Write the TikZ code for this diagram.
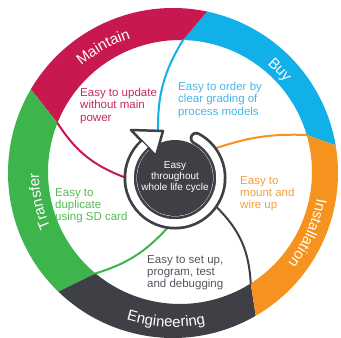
\documentclass[tikz,border=0pt]{standalone}
\usepackage{fontspec}
\setmainfont{Liberation Sans}
\usetikzlibrary{calc,decorations.text}

\definecolor{buyblue}{RGB}{18,176,232}
\definecolor{maintainred}{RGB}{200,24,80}
\definecolor{transfergreen}{RGB}{62,180,76}
\definecolor{enggray}{RGB}{62,64,70}
\definecolor{installorange}{RGB}{246,146,30}
\definecolor{bluetext}{RGB}{72,182,230}
\definecolor{redtext}{RGB}{196,40,92}
\definecolor{greentext}{RGB}{82,186,82}
\definecolor{graytext}{RGB}{84,86,94}
\definecolor{orangetext}{RGB}{244,158,56}

\newcommand{\ringfont}{\fontsize{15}{18}\selectfont}
\newcommand{\notefont}{\fontsize{11.5}{12.3}\selectfont}
\newcommand{\hubfont}{\fontsize{10}{10.6}\selectfont}

\begin{document}
\begin{tikzpicture}[x=1pt, y=1pt, line cap=round]
	\tikzstyle{note}=[anchor=north west, inner sep=0pt, align=left, font=\notefont]
	\tikzstyle{link}=[line width=2pt]
	\tikzset{ringlabel/.style={decorate, decoration={text along path, text align=center, text color=white, text={|\ringfont|#1}}}}
	\useasboundingbox (0,0) rectangle (341,338);
	\coordinate (O) at (173,165); % outer rim
	\coordinate (I) at (180,166); % inner rim
	\coordinate (C) at (175,160); % hub

	% ring parts: colour / outer from, to / inner from, to
	\foreach \col/\oa/\ob/\ia/\ib in {buyblue/9.7/78.1/16.3/88.7, maintainred/78.1/149.5/88.7/158.2, transfergreen/149.5/226/158.2/230.2, enggray/226/300.1/230.2/302.4, installorange/300.1/369.7/302.4/376.3}
		\fill[\col] ($(O)+(\oa:165)$) arc[start angle=\oa, end angle=\ob, radius=165] -- ($(I)+(\ib:132)$) arc[start angle=\ib, end angle=\ia, radius=132] -- cycle;

	\coordinate (redA) at ($(I)+(158.2:132)$);
	\coordinate (redB) at ($(C)+(179:51)$);
	\coordinate (blueA) at ($(I)+(88.7:132)$);
	\coordinate (blueB) at (158,206);
	\coordinate (orangeA) at ($(I)+(16.3:132)$);
	\coordinate (orangeB) at ($(C)+(36:51)$);
	\coordinate (grayA) at ($(C)+(-35:51)$);
	\coordinate (grayB) at ($(I)+(-57.6:132)$);
	\coordinate (greenA) at ($(I)+(-129.8:132)$);
	\coordinate (greenB) at ($(C)+(-99:51)$);
	\draw[link, maintainred] (redA) to[bend right=18] (redB);
	\draw[link, buyblue] (blueA) to[bend right=16] (blueB);
	\draw[link, installorange] (orangeA) to[bend right=10] (orangeB);
	\draw[link, enggray] (grayA) to[bend left=21] (grayB);
	\draw[link, transfergreen] (greenA) to[bend right=15] (greenB);

	% hub with circular arrow
	\fill[enggray] (C) circle[radius=38];
	\draw[enggray, line width=13pt] ($(C)+(62:45)$) arc[start angle=62, end angle=-228, radius=45];
	\draw[white, line width=7.5pt] ($(C)+(62:45)$) arc[start angle=62, end angle=-228, radius=45];
	\filldraw[fill=white, draw=enggray, line width=2.5pt, line join=round] (131,208) -- (163,207) -- (156,182) -- cycle;
	\draw[white, line width=7.5pt, line cap=butt] ($(C)+(145:45)$) arc[start angle=145, end angle=132, radius=45];
	\node[align=center, text=white, font=\hubfont, inner sep=0pt] (hub) at (175,161) {Easy\\throughout\\whole life cycle};

	\node[note, text=redtext] (maintainnote) at (80,250) {Easy to update\\without main\\power};
	\node[note, text=bluetext] (buynote) at (178,256) {Easy to order by\\clear grading of\\process models};
	\node[note, text=orangetext] (installnote) at (240,162) {Easy to\\mount and\\wire up};
	\node[note, text=greentext] (transfernote) at (55,150) {Easy to\\duplicate\\using SD card};
	\node[note, text=graytext] (engnote) at (147,83) {Easy to set up,\\program, test\\and debugging};

	\path[ringlabel=Maintain] ($(O)+(149:141)$) arc[start angle=149, end angle=89, radius=141];
	\path[ringlabel=Buy] ($(O)+(74:144)$) arc[start angle=74, end angle=14, radius=144];
	\path[ringlabel=Installation] ($(O)+(6:146)$) arc[start angle=6, end angle=-54, radius=146];
	\path[ringlabel=Engineering] ($(O)+(-122.7:154)$) arc[start angle=-122.7, end angle=-62.7, radius=154];
	\path[ringlabel=Transfer] ($(O)+(222:134)$) arc[start angle=222, end angle=162, radius=134];
\end{tikzpicture}
\end{document}
